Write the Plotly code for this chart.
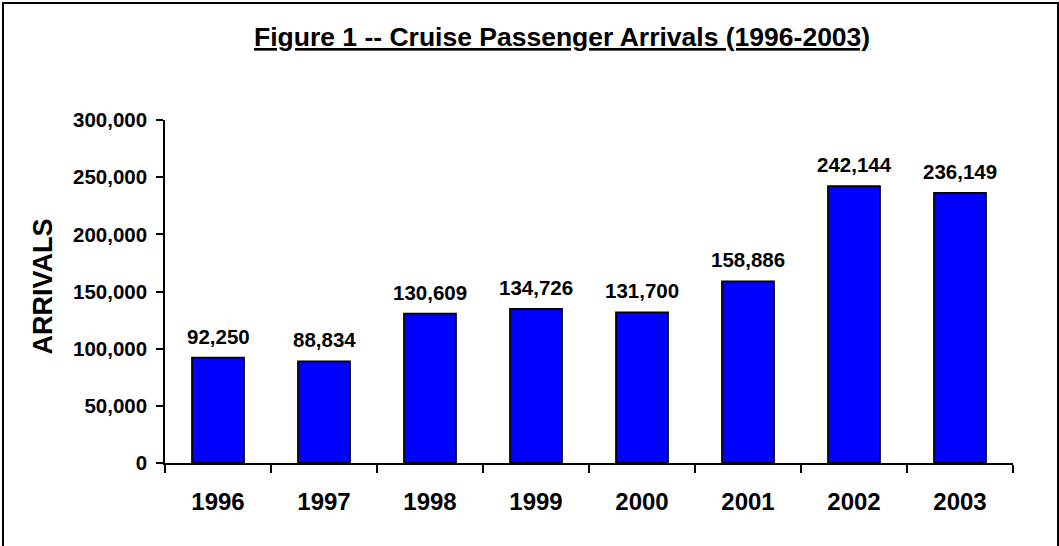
import plotly.graph_objects as go

years = ["1996", "1997", "1998", "1999", "2000", "2001", "2002", "2003"]
arrivals = [92250, 88834, 130609, 134726, 131700, 158886, 242144, 236149]
y_ticks = [0, 50000, 100000, 150000, 200000, 250000, 300000]
title_text = "Figure 1 -- Cruise Passenger Arrivals (1996-2003)"
y_title = "ARRIVALS"

W, H = 1059, 546
L, R, T, B = 165, 46, 120, 83
pw = W - L - R
ph = H - T - B

def px_x(px):
    return (px - L) / pw

def px_y(py):
    return (H - B - py) / ph

FONT = "Liberation Sans, Arial, sans-serif"

fig = go.Figure()
fig.add_trace(go.Bar(
    x=years, y=arrivals,
    marker=dict(color="#0000FF", line=dict(color="black", width=1.8)),
    hoverinfo="x+y",
))

annotations = []
for i, v in enumerate(arrivals):
    annotations.append(dict(
        x=i, y=v, xref="x", yref="y", text=f"{v:,}", showarrow=False,
        xanchor="center", yanchor="bottom", yshift=8,
        font=dict(family=FONT, size=20.5, color="black", weight="bold"),
    ))

annotations.append(dict(
    x=px_x(561.5), y=px_y(37), xref="paper", yref="paper",
    text=f"<u>{title_text}</u>", showarrow=False,
    xanchor="center", yanchor="middle",
    font=dict(family=FONT, size=26.5, color="black", weight="bold"),
))
annotations.append(dict(
    x=px_x(42.5), y=px_y(287), xref="paper", yref="paper",
    text=y_title, showarrow=False, textangle=-90,
    xanchor="center", yanchor="middle",
    font=dict(family=FONT, size=27, color="black", weight="bold"),
))

fig.update_layout(
    width=W, height=H,
    margin=dict(l=L, r=R, t=T, b=B, pad=0),
    paper_bgcolor="white", plot_bgcolor="white",
    showlegend=False,
    bargap=0.51,
    annotations=annotations,
    shapes=[dict(
        type="rect", xref="paper", yref="paper",
        x0=px_x(3), x1=px_x(1058), y0=px_y(600), y1=px_y(3),
        line=dict(color="black", width=2), fillcolor="rgba(0,0,0,0)", layer="below",
    )],
    xaxis=dict(
        type="category", categoryorder="array", categoryarray=years,
        range=[-0.5, len(years) - 0.5],
        tickson="boundaries", ticks="outside", ticklen=8,
        tickcolor="black", tickwidth=1.5,
        showline=True, linecolor="black", linewidth=1.5,
        showgrid=False, zeroline=False,
        tickfont=dict(family=FONT, size=24, color="black", weight="bold"),
        tickangle=0,
        ticklabelstandoff=16,
    ),
    yaxis=dict(
        range=[0, 300000], tickvals=y_ticks, tickformat=",",
        ticks="outside", ticklen=7, tickcolor="black", tickwidth=1.5,
        showline=True, linecolor="black", linewidth=1.5,
        showgrid=False, zeroline=False,
        tickfont=dict(family=FONT, size=20.5, color="black", weight="bold"),
        ticklabelstandoff=5,
    ),
)

fig.write_html("out.html", config={"displayModeBar": False},
               post_script="document.body.style.margin='0';")
